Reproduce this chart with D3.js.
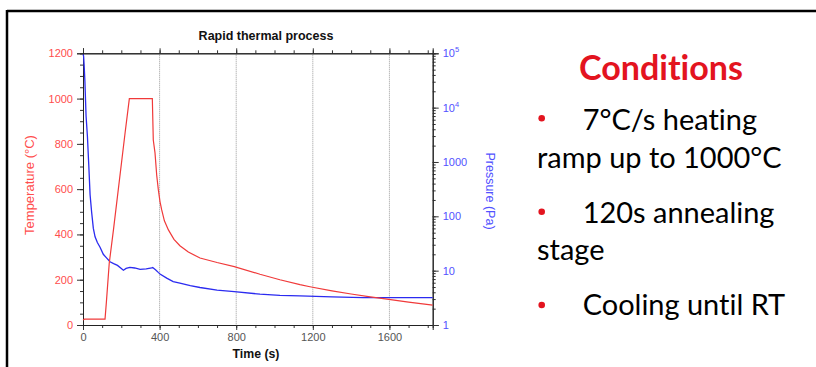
<!DOCTYPE html>
<html><head><meta charset="utf-8">
<script src="https://cdn.jsdelivr.net/npm/d3@7"></script>
<style>
html,body{margin:0;padding:0;background:#fff;}
svg{display:block;}
</style></head>
<body>
<svg id="c" width="816" height="367"></svg>
<script>
// ---- data ----
const chartTitle = "Rapid thermal process";
const xLabel = "Time (s)";
const yLeftLabel = "Temperature (°C)";
const yRightLabel = "Pressure (Pa)";
const xTicks = [0, 400, 800, 1200, 1600];
const yLeftTicks = [0, 200, 400, 600, 800, 1000, 1200];
const yRightTicks = [1, 10, 100, 1000, 1e4, 1e5];

// temperature (°C) vs time (s)
const tempTime  = [0, 8, 115, 122, 137, 159, 220, 242, 362, 367, 376, 385, 393, 402, 411, 425, 446, 475, 506, 550, 611, 700, 790, 924, 1028, 1133, 1185, 1300, 1400, 1500, 1578, 1700, 1826];
const tempValue = [22, 26, 26, 100, 273, 420, 850, 1000, 1000, 817, 760, 660, 600, 545, 508, 460, 420, 378, 350, 322, 296, 276, 258, 224, 200, 178, 169, 151, 137, 124, 115, 101, 88];

// pressure (Pa) vs time (s)
const presTime  = [0, 3, 6, 10, 16, 23, 30, 37, 45, 54, 63, 75, 89, 106, 124, 141, 160, 180, 200, 211, 225, 245, 270, 298, 330, 359, 364, 380, 393, 402, 437, 471, 506, 560, 611, 700, 790, 924, 1028, 1133, 1300, 1462, 1826];
const presValue = [95000, 90000, 60000, 30000, 7000, 3000, 900, 250, 120, 60, 42, 33, 27, 20, 17, 14.6, 13.5, 12.5, 11, 10.2, 11, 11.5, 11.2, 10.6, 10.8, 11.2, 11.4, 10.3, 9.3, 8.7, 7.3, 6.3, 5.9, 5.3, 4.9, 4.4, 4.1, 3.7, 3.5, 3.45, 3.3, 3.2, 3.2];

// side text
const condTitle = "Conditions";
const bulletLines = [
  {bullet: true,  text: "7°C/s heating"},
  {bullet: false, text: "ramp up to 1000°C"},
  {bullet: true,  text: "120s annealing"},
  {bullet: false, text: "stage"},
  {bullet: true,  text: "Cooling until RT"}
];

// ---- drawing ----
const svg = d3.select("#c");
const L = 83, R = 432.7, T = 53.3, B = 325;
const redText = "#ff4d4d", blueText = "#5252ff";
const x = d3.scaleLinear().domain([0, 1826]).range([L, R]);
const yT = d3.scaleLinear().domain([0, 1200]).range([B, T]);
const yP = d3.scaleLog().domain([1, 1e5]).range([B, T]);

// frame of the slide region
svg.append("line").attr("x1", 7).attr("x2", 816).attr("y1", 11).attr("y2", 11).attr("stroke", "#000").attr("stroke-width", 2.5);
svg.append("line").attr("x1", 7).attr("x2", 7).attr("y1", 10).attr("y2", 367).attr("stroke", "#000").attr("stroke-width", 2.5);

// grid lines
svg.append("g").selectAll("line").data(xTicks.filter(d => d > 0)).join("line")
  .attr("x1", d => x(d)).attr("x2", d => x(d)).attr("y1", T).attr("y2", B)
  .attr("stroke", "#999").attr("stroke-width", 1).attr("stroke-dasharray", "1,1");

const font = "'Liberation Sans', Arial, sans-serif";
function styleAxis(g, color) {
  g.selectAll("text").attr("font-family", font).attr("font-size", 11).attr("fill", color);
  g.selectAll(".domain").attr("stroke", "#222");
  g.selectAll(".tick line").attr("stroke", "#333");
}
// minor ticks
const xMinor = d3.range(0, 1827, 100);
const yMinor = d3.range(0, 1201, 50);
const pMinor = [];
for (let e = 0; e < 5; e++) for (let m = 1; m < 10; m++) pMinor.push(m * Math.pow(10, e));
pMinor.push(1e5);

svg.append("g").attr("transform", `translate(0,${B})`).call(d3.axisBottom(x).tickValues(xMinor).tickSize(3).tickFormat("")).call(g => styleAxis(g, "#444"));
svg.append("g").attr("transform", `translate(0,${B})`).call(d3.axisBottom(x).tickValues(xTicks).tickSize(5).tickPadding(3).tickFormat(d3.format("d"))).call(g => styleAxis(g, "#555"));
svg.append("g").attr("transform", `translate(0,${T})`).call(d3.axisTop(x).tickValues(xMinor).tickSize(3).tickFormat("")).call(g => styleAxis(g, "#444"));
svg.append("g").attr("transform", `translate(0,${T})`).call(d3.axisTop(x).tickValues(xTicks).tickSize(5).tickFormat("")).call(g => styleAxis(g, "#444"));

svg.append("g").attr("transform", `translate(${L},0)`).call(d3.axisLeft(yT).tickValues(yMinor).tickSize(3).tickFormat("")).call(g => styleAxis(g, "#444"));
svg.append("g").attr("transform", `translate(${L},0)`).call(d3.axisLeft(yT).tickValues(yLeftTicks).tickSize(6).tickPadding(4).tickFormat(d3.format("d"))).call(g => styleAxis(g, redText));

svg.append("g").attr("transform", `translate(${R},0)`).call(d3.axisRight(yP).tickValues(pMinor).tickSize(3).tickFormat("")).call(g => styleAxis(g, "#444"));
const rAx = svg.append("g").attr("transform", `translate(${R},0)`).call(d3.axisRight(yP).tickValues(yRightTicks).tickSize(6).tickPadding(4).tickFormat(d => String(d))).call(g => styleAxis(g, blueText));
rAx.selectAll(".tick text").each(function(d) {
  if (d >= 1e4) {
    const t = d3.select(this); t.text("");
    t.append("tspan").text("10");
    t.append("tspan").text(Math.round(Math.log10(d))).attr("font-size", 7.5).attr("dy", -5);
  }
});

// data lines
const tempData = tempTime.map((t, i) => [t, tempValue[i]]);
const presData = presTime.map((t, i) => [t, presValue[i]]);
svg.append("path").datum(presData)
  .attr("d", d3.line().x(d => x(d[0])).y(d => yP(d[1])))
  .attr("fill", "none").attr("stroke", "#2b2bf0").attr("stroke-width", 1.3);
svg.append("path").datum(tempData)
  .attr("d", d3.line().x(d => x(d[0])).y(d => yT(d[1])))
  .attr("fill", "none").attr("stroke", "#f03a3a").attr("stroke-width", 1.2);

// titles / labels
svg.append("text").attr("x", 266).attr("y", 40).attr("text-anchor", "middle")
  .attr("font-family", font).attr("font-weight", "bold").attr("font-size", 12.5).attr("fill", "#111").text(chartTitle);
svg.append("text").attr("x", 256).attr("y", 358).attr("text-anchor", "middle")
  .attr("font-family", font).attr("font-weight", "bold").attr("font-size", 12.3).attr("fill", "#111").text(xLabel);
svg.append("text").attr("transform", "translate(34,185) rotate(-90)").attr("text-anchor", "middle")
  .attr("font-family", font).attr("font-size", 13).attr("fill", redText).text(yLeftLabel);
svg.append("text").attr("transform", "translate(486,191) rotate(90)").attr("text-anchor", "middle")
  .attr("font-family", font).attr("font-size", 12.5).attr("fill", blueText).text(yRightLabel);

// side text
const sideFont = "Lato, 'Open Sans', sans-serif";
const ct = svg.append("text").attr("x", 661).attr("y", 80).attr("text-anchor", "middle")
  .attr("font-family", sideFont).attr("font-weight", "bold").attr("font-size", 30)
  .style("font-variant-ligatures", "none").attr("fill", "#e3141f").text(condTitle);
const cw = ct.node().getComputedTextLength();
ct.attr("font-size", 30 * 164 / cw);

const lineY = [130, 168.3, 222.7, 260, 315];
const dotY = [118.3, 211.7, 305];
let bi = 0;
const probe = svg.append("text").attr("font-family", sideFont).attr("font-size", 28).text(bulletLines[1].text);
const fs = 28 * 244.7 / probe.node().getComputedTextLength();
probe.remove();
bulletLines.forEach((ln, i) => {
  svg.append("text").attr("x", ln.bullet ? 582.7 : 537).attr("y", lineY[i])
    .attr("font-family", sideFont).attr("font-size", fs).style("font-variant-ligatures", "none")
    .attr("fill", "#000").text(ln.text);
  if (ln.bullet) {
    svg.append("circle").attr("cx", 541.7).attr("cy", dotY[bi++]).attr("r", 3.3).attr("fill", "#e3141f");
  }
});
</script>
</body></html>
